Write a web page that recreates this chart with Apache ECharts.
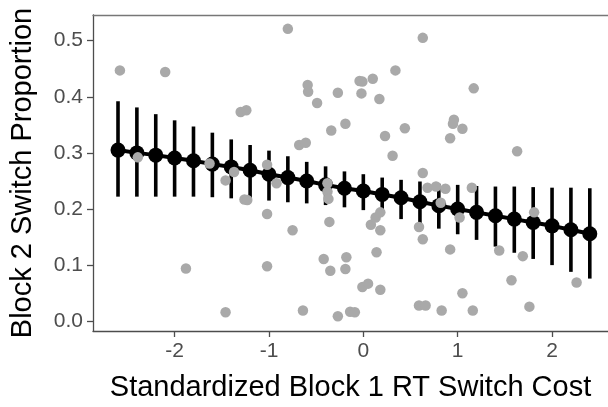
<!DOCTYPE html>
<html>
<head>
<meta charset="utf-8">
<script src="https://cdn.jsdelivr.net/npm/echarts@6/dist/echarts.min.js"></script>
<style>
html,body{margin:0;padding:0;background:#fff;}
#chart{width:608px;height:407px;}
</style>
</head>
<body>
<div id="chart"></div>
<script>
// Model predictions (black)
var predX = [-2.6,-2.4,-2.2,-2.0,-1.8,-1.6,-1.4,-1.2,-1.0,-0.8,-0.6,-0.4,-0.2,0.0,0.2,0.4,0.6,0.8,1.0,1.2,1.4,1.6,1.8,2.0,2.2,2.4];
var predMean = [0.305,0.300,0.296,0.291,0.286,0.280,0.275,0.269,0.262,0.256,0.250,0.243,0.237,0.232,0.226,0.220,0.213,0.206,0.200,0.194,0.188,0.182,0.176,0.170,0.163,0.156];
var predLower = [0.222,0.222,0.222,0.222,0.222,0.221,0.219,0.217,0.215,0.212,0.210,0.207,0.203,0.198,0.190,0.182,0.173,0.165,0.155,0.145,0.133,0.122,0.111,0.100,0.088,0.076];
var predUpper = [0.392,0.381,0.369,0.358,0.347,0.336,0.324,0.314,0.304,0.294,0.284,0.276,0.267,0.262,0.256,0.252,0.249,0.245,0.243,0.241,0.240,0.240,0.239,0.238,0.238,0.237];

// Observed participants (grey)
var obsX = [-2.58,-2.10,-1.30,-1.24,-2.39,-1.63,-1.37,-1.02,-1.46,-1.26,-1.23,-1.02,-1.88,-1.02,-1.46,-0.80,0.63,0.34,-0.59,-0.585,-0.49,-0.27,-0.04,-0.01,0.10,-0.02,0.17,-0.34,-0.19,-0.68,-0.61,0.23,0.44,0.31,0.63,1.17,0.96,0.95,1.05,0.92,1.63,0.68,0.77,0.87,0.82,-0.92,-0.38,-0.38,-0.37,-0.36,-0.75,0.08,0.13,0.18,0.18,0.59,0.63,0.14,-0.42,-0.18,-0.35,-0.19,-0.01,0.05,0.18,-0.64,-0.27,-0.14,-0.09,0.59,0.66,0.83,1.15,1.02,0.92,1.05,1.16,1.44,1.57,1.69,1.76,1.81,2.26];
var obsY = [0.447,0.444,0.373,0.376,0.292,0.281,0.266,0.279,0.251,0.217,0.216,0.191,0.094,0.098,0.016,0.521,0.505,0.447,0.421,0.409,0.389,0.407,0.428,0.427,0.432,0.406,0.396,0.340,0.352,0.314,0.318,0.330,0.344,0.295,0.264,0.415,0.359,0.352,0.343,0.326,0.303,0.238,0.240,0.236,0.211,0.246,0.246,0.231,0.218,0.177,0.162,0.172,0.185,0.194,0.162,0.168,0.146,0.123,0.111,0.114,0.090,0.093,0.061,0.067,0.056,0.019,0.009,0.017,0.016,0.028,0.028,0.019,0.238,0.185,0.128,0.050,0.019,0.126,0.073,0.116,0.026,0.194,0.069];

var xTicks = [-2,-1,0,1,2];
var yTicks = [0.0,0.1,0.2,0.3,0.4,0.5];

var xTitle = 'Standardized Block 1 RT Switch Cost';
var yTitle = 'Block 2 Switch Proportion';

var meanData = predX.map(function(x,i){return [x, predMean[i]];});
var barData = predX.map(function(x,i){return [x, predLower[i], predUpper[i]];});
var obsData = obsX.map(function(x,i){return [x, obsY[i]];});

var axisColor = '#4D4D4D';
var labelColor = '#4D4D4D';
var font = 'Liberation Sans, Arial, sans-serif';

var chart = echarts.init(document.getElementById('chart'), null, {renderer:'canvas'});
chart.setOption({
  animation:false,
  backgroundColor:'#ffffff',
  grid:{left:92, right:0, top:15, bottom:67, containLabel:false},
  xAxis:[{
    type:'value', min:-2.865, max:2.593,
    name:xTitle, nameLocation:'middle', nameGap:42,
    nameTextStyle:{color:'#000', fontSize:29, fontFamily:font},
    axisLine:{show:true, onZero:false, lineStyle:{color:axisColor, width:1.3}},
    axisTick:{show:true, length:6, customValues:xTicks, lineStyle:{color:axisColor, width:1.3}},
    axisLabel:{customValues:xTicks, color:labelColor, fontSize:21, fontFamily:font, margin:10},
    splitLine:{show:false}
  },{
    type:'value', position:'top', min:-2.865, max:2.593,
    axisLine:{show:true, onZero:false, lineStyle:{color:'#777777', width:1.3}},
    axisTick:{show:false}, axisLabel:{show:false}, splitLine:{show:false}
  }],
  yAxis:{
    type:'value', min:-0.0174, max:0.5457,
    name:yTitle, nameLocation:'middle', nameGap:56, nameRotate:90,
    nameTextStyle:{color:'#000', fontSize:29, fontFamily:font},
    axisLine:{show:true, onZero:false, lineStyle:{color:axisColor, width:1.3}},
    axisTick:{show:true, length:6, customValues:yTicks, lineStyle:{color:axisColor, width:1.3}},
    axisLabel:{customValues:yTicks, color:labelColor, fontSize:21, fontFamily:font, margin:10,
      formatter:function(v){return Number(v).toFixed(1);}},
    splitLine:{show:false}
  },
  series:[{
    type:'custom',
    data:barData,
    z:2,
    renderItem:function(params, api){
      var p1 = api.coord([api.value(0), api.value(1)]);
      var p2 = api.coord([api.value(0), api.value(2)]);
      return {type:'line', shape:{x1:p1[0], y1:p1[1], x2:p2[0], y2:p2[1]},
        style:{stroke:'#000', lineWidth:3.6}};
    }
  },{
    type:'line',
    data:meanData,
    z:3,
    symbol:'circle', symbolSize:15, showSymbol:true,
    lineStyle:{color:'#000', width:4},
    itemStyle:{color:'#000', borderWidth:0}
  },{
    type:'scatter',
    data:obsData,
    z:4,
    symbol:'circle', symbolSize:10.5,
    itemStyle:{color:'#A9A9A9', opacity:1}
  }]
});
</script>
</body>
</html>
